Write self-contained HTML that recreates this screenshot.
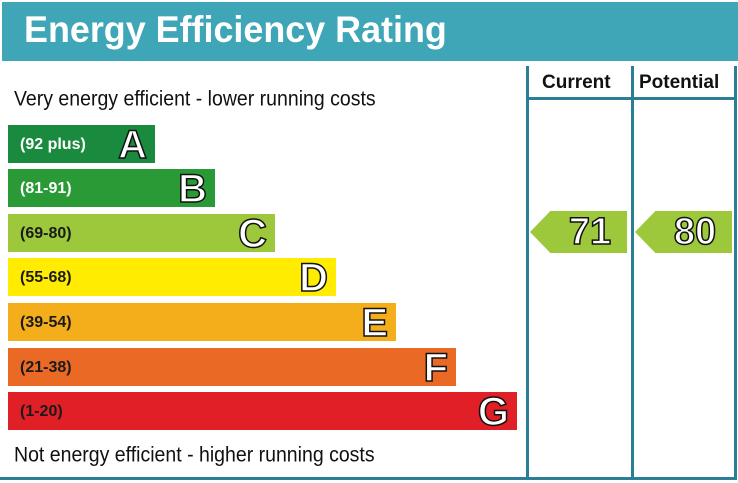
<!DOCTYPE html>
<html><head><style>
body{margin:0;width:738px;height:483px;background:#fff;position:relative;overflow:hidden;font-family:"Liberation Sans",Arial,sans-serif}
.hdr{position:absolute;left:2px;top:2px;width:736px;height:59px;background:#3fa6b8}
.hdr span{position:absolute;left:22px;top:7px;font-size:37px;font-weight:bold;color:#fff;transform:scaleX(0.97);transform-origin:left}
.ln{position:absolute;background:#2a7f96}
.t{position:absolute;font-size:19.5px;color:#111;transform:scaleY(1.1);transform-origin:left top}
.bar{position:absolute;left:8px;height:38px}
.bar .r{position:absolute;left:12px;top:11px;font-size:16px;font-weight:bold;color:#1a1a1a}
.bar .l{position:absolute;right:8px;top:0;font-size:40px;font-weight:bold;color:#fff;-webkit-text-stroke:1.5px #111;line-height:40px}
.hd{position:absolute;top:72px;font-size:19px;font-weight:bold;color:#111}
.arr{position:absolute;top:211px;height:42px;width:97px;background:#9dc83c;clip-path:polygon(0 50%,21% 0,100% 0,100% 100%,21% 100%)}
.arr span{position:absolute;left:26px;width:68px;text-align:center;top:0;line-height:42px;font-size:38px;font-weight:bold;color:#fff;-webkit-text-stroke:1.5px #111}
</style></head><body>
<div class="hdr"><span>Energy Efficiency Rating</span></div>
<div class="ln" style="left:526px;top:66px;width:3px;height:413px"></div>
<div class="ln" style="left:631px;top:66px;width:3px;height:413px"></div>
<div class="ln" style="left:734px;top:66px;width:3px;height:413px"></div>
<div class="ln" style="left:526px;top:97px;width:211px;height:3px"></div>
<div class="ln" style="left:0;top:477px;width:737px;height:3px"></div>
<div class="hd" style="left:542px">Current</div>
<div class="hd" style="left:639px">Potential</div>
<div class="t" style="left:14px;top:87px">Very energy efficient - lower running costs</div>
<div class="t" style="left:14px;top:443px">Not energy efficient - higher running costs</div>
<div class="bar" style="top:125px;width:147px;background:#1a8a3e"><span class="r" style="color:#fff">(92 plus)</span><span class="l">A</span></div>
<div class="bar" style="top:169px;width:207px;background:#2a9a36"><span class="r" style="color:#fff">(81-91)</span><span class="l">B</span></div>
<div class="bar" style="top:214px;width:267px;background:#9dc83c"><span class="r">(69-80)</span><span class="l">C</span></div>
<div class="bar" style="top:258px;width:328px;background:#ffec00"><span class="r">(55-68)</span><span class="l">D</span></div>
<div class="bar" style="top:303px;width:388px;background:#f4ae1c"><span class="r">(39-54)</span><span class="l">E</span></div>
<div class="bar" style="top:348px;width:448px;background:#ea6a25"><span class="r">(21-38)</span><span class="l">F</span></div>
<div class="bar" style="top:392px;width:509px;background:#e01f26"><span class="r">(1-20)</span><span class="l">G</span></div>
<div class="arr" style="left:530px"><span>71</span></div>
<div class="arr" style="left:635px"><span>80</span></div>
</body></html>
